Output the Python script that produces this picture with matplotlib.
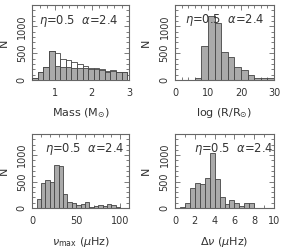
import numpy as np
import matplotlib
matplotlib.use("Agg")
import matplotlib.pyplot as plt
from matplotlib.ticker import MultipleLocator

# ---- data ----
mass_edges = [0.40 + 0.15 * i for i in range(18)]
mass_gray = [30, 150, 235, 545, 265, 250, 235, 220, 225, 225, 200, 210, 190, 150, 175, 145, 150]
mass_open = [30, 150, 235, 545, 505, 400, 365, 335, 305, 265, 215, 215, 195, 160, 180, 150, 155]

rad_edges = [2 * i for i in range(16)]
rad_counts = [0, 0, 0, 30, 630, 1195, 1070, 515, 430, 250, 190, 95, 40, 30, 45]

numax_edges = [5 * i for i in range(21)]
numax_counts = [5, 165, 470, 530, 495, 805, 795, 265, 120, 90, 55, 80, 115, 25, 45, 50, 40, 70, 50, 25]

dnu_edges = [0.5 * i for i in range(17)]
dnu_counts = [0, 20, 90, 385, 470, 445, 570, 1045, 545, 215, 75, 145, 95, 40, 88, 90]

label_text = r"$\eta$=0.5  $\alpha$=2.4"

GRAY = "#aaaaaa"
EDGE = "#444444"
SPINE = "#666666"
TXT = "#333333"
FS_TICK = 7.0
FS_LAB = 8.0
FS_ANN = 8.3

plt.rcParams["font.family"] = ["DejaVu Sans"]
plt.rcParams["mathtext.fontset"] = "dejavusans"

fig = plt.figure(figsize=(2.81, 2.49), dpi=100)

def style(ax, xlim, xmaj, xmin, xlabel, xlab_y):
    ax.set_xlim(*xlim)
    ax.set_ylim(0, 1400)
    ax.xaxis.set_major_locator(MultipleLocator(xmaj))
    ax.xaxis.set_minor_locator(MultipleLocator(xmin))
    ax.yaxis.set_major_locator(MultipleLocator(500))
    ax.yaxis.set_minor_locator(MultipleLocator(100))
    ax.tick_params(which="both", direction="in", top=True, right=True,
                   colors=SPINE, labelcolor=TXT, labelsize=FS_TICK, width=0.6)
    ax.tick_params(which="major", length=3.5)
    ax.tick_params(which="minor", length=2)
    ax.tick_params(axis="x", which="major", pad=6)
    ax.tick_params(axis="y", which="major", pad=4)
    for lab in ax.get_yticklabels():
        lab.set_rotation(90)
        lab.set_va("center")
    for s in ax.spines.values():
        s.set_color(SPINE)
        s.set_linewidth(0.8)
    ax.set_xlabel(xlabel, fontsize=FS_LAB, color=TXT)
    ax.xaxis.set_label_coords(0.5, xlab_y)
    ax.set_ylabel("N", fontsize=FS_LAB, color=TXT)
    ax.yaxis.set_label_coords(-0.24, 0.5)

def hist(ax, edges, counts, face, zorder=2):
    widths = np.diff(edges)
    ax.bar(edges[:-1], counts, width=widths, align="edge", color=face,
           edgecolor=EDGE, linewidth=0.6, zorder=zorder)

# panel 1
ax1 = fig.add_axes([0.115, 0.679, 0.344, 0.301])
hist(ax1, mass_edges, mass_open, "white", 2)
hist(ax1, mass_edges, mass_gray, GRAY, 3)
style(ax1, (0.4, 3.0), 1, 0.2, r"Mass (M$_{\odot}$)", -0.35)
ax1.text(0.07, 0.79, label_text, transform=ax1.transAxes, fontsize=FS_ANN, color=TXT, va="center")

# panel 2
ax2 = fig.add_axes([0.623, 0.679, 0.352, 0.301])
hist(ax2, rad_edges, rad_counts, GRAY)
style(ax2, (0, 30), 10, 2, r"log (R/R$_{\odot}$)", -0.35)
ax2.text(0.10, 0.80, label_text, transform=ax2.transAxes, fontsize=FS_ANN, color=TXT, va="center")

# panel 3
ax3 = fig.add_axes([0.115, 0.165, 0.344, 0.297])
hist(ax3, numax_edges, numax_counts, GRAY)
style(ax3, (0, 110), 50, 10, r"$\nu_{\rm max}$ ($\mu$Hz)", -0.37)
ax3.text(0.13, 0.80, label_text, transform=ax3.transAxes, fontsize=FS_ANN, color=TXT, va="center")

# panel 4
ax4 = fig.add_axes([0.623, 0.165, 0.352, 0.297])
hist(ax4, dnu_edges, dnu_counts, GRAY)
style(ax4, (0, 10), 2, 1, r"$\Delta\nu$ ($\mu$Hz)", -0.37)
ax4.text(0.19, 0.80, label_text, transform=ax4.transAxes, fontsize=FS_ANN, color=TXT, va="center")

fig.savefig("out.png", dpi=100)
